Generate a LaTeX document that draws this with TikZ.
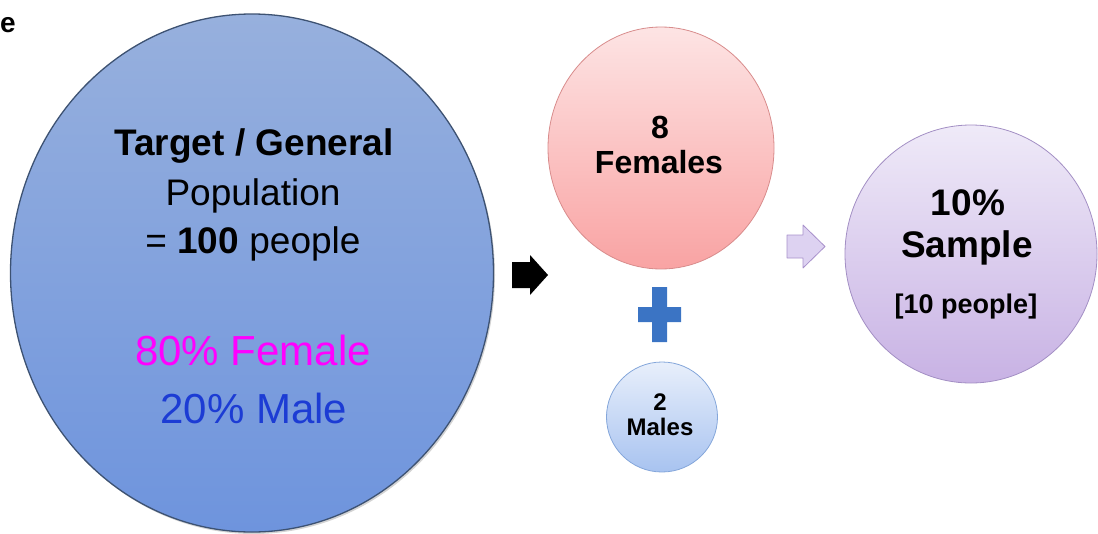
\documentclass[tikz,border=0pt]{standalone}
\usepackage{fontspec}
\setmainfont{Liberation Sans}
\usetikzlibrary{shapes.geometric,shadows}

\definecolor{popTop}{HTML}{97B0DD}
\definecolor{popBot}{HTML}{6E94DD}
\definecolor{popRim}{HTML}{3D5272}
\definecolor{femTop}{HTML}{FDE4E4}
\definecolor{femBot}{HTML}{F9A3A3}
\definecolor{femRim}{HTML}{D88C8C}
\definecolor{malTop}{HTML}{E8EFFB}
\definecolor{malBot}{HTML}{A8C3F0}
\definecolor{malRim}{HTML}{84A6DA}
\definecolor{smpTop}{HTML}{EFEAF8}
\definecolor{smpBot}{HTML}{C8B2E4}
\definecolor{smpRim}{HTML}{A38FC4}
\definecolor{plusBlue}{HTML}{3B74C4}
\definecolor{arrLilac}{HTML}{DDD2F1}
\definecolor{arrLilacRim}{HTML}{A891CB}
\definecolor{femPink}{HTML}{FF00FF}
\definecolor{malBlue}{HTML}{1C3CD4}

\begin{document}
\begin{tikzpicture}[x=1pt,y=-1pt,
  fs/.style={font=\fontsize{#1}{#1}\selectfont},
  blob/.style={ellipse,inner sep=0pt},
  txt/.style={anchor=base,inner sep=0pt}]
  \useasboundingbox (0,0) rectangle (1098,533);
  % bout de texte coupe en haut a gauche
  \node[fs=28,anchor=base west,inner sep=0pt] (cut) at (0,32) {\textbf{e}};
  % population generale
  \node[blob,minimum width=483,minimum height=518,top color=popTop,bottom color=popBot,
        draw=popRim,line width=1.3pt,
        drop shadow={opacity=.35,shadow xshift=1.5pt,shadow yshift=-2pt}] (pop) at (252,273) {};
  \node[txt,fs=37] (pop1) at (254,155) {\textbf{Target / General}};
  \node[txt,fs=37] (pop2) at (253,205) {Population};
  \node[txt,fs=37] (pop3) at (253,253) {= \textbf{100} people};
  \node[txt,fs=42,text=femPink] (pop4) at (253,365) {80\% Female};
  \node[txt,fs=42,text=malBlue] (pop5) at (254,423) {20\% Male};
  % fleche noire
  \coordinate (go) at (530,275);
  \fill[shift={(go)}] (-18,-13) -- (0,-13) -- (0,-20) -- (18,0) -- (0,20) -- (0,13) -- (-18,13) -- cycle;
  % femmes
  \node[blob,minimum width=226,minimum height=242,top color=femTop,bottom color=femBot,
        draw=femRim,line width=0.8pt] (fem) at (661,148) {};
  \node[txt,fs=32] (fem1) at (660,138) {\textbf{8}};
  \node[txt,fs=32] (fem2) at (659,173) {\textbf{Females}};
  % plus
  \coordinate (plus) at (659.5,314.5);
  \fill[plusBlue,shift={(plus)}] (-21.5,-7.5) rectangle (21.5,7.5) (-7.5,-27.5) rectangle (7.5,27.5);
  % hommes
  \node[blob,minimum width=111,minimum height=110,top color=malTop,bottom color=malBot,
        draw=malRim,line width=0.8pt] (mal) at (662,417) {};
  \node[txt,fs=24] (mal1) at (660,410) {\textbf{2}};
  \node[txt,fs=24] (mal2) at (660,435) {\textbf{Males}};
  % fleche lilas
  \coordinate (to) at (806,246.5);
  \filldraw[fill=arrLilac,draw=arrLilacRim,line width=0.8pt,line join=round,shift={(to)}]
    (-19,-11.5) -- (-3,-11.5) -- (-3,-21.5) -- (19,0) -- (-3,21.5) -- (-3,11.5) -- (-19,11.5) -- cycle;
  % echantillon
  \node[blob,minimum width=252,minimum height=258,top color=smpTop,bottom color=smpBot,
        draw=smpRim,line width=0.8pt] (smp) at (971,254) {};
  \node[txt,fs=37] (smp1) at (968,215) {\textbf{10\%}};
  \node[txt,fs=37] (smp2) at (967,257) {\textbf{Sample}};
  \node[txt,fs=27] (smp3) at (966,313) {\textbf{[10 people]}};
\end{tikzpicture}
\end{document}
